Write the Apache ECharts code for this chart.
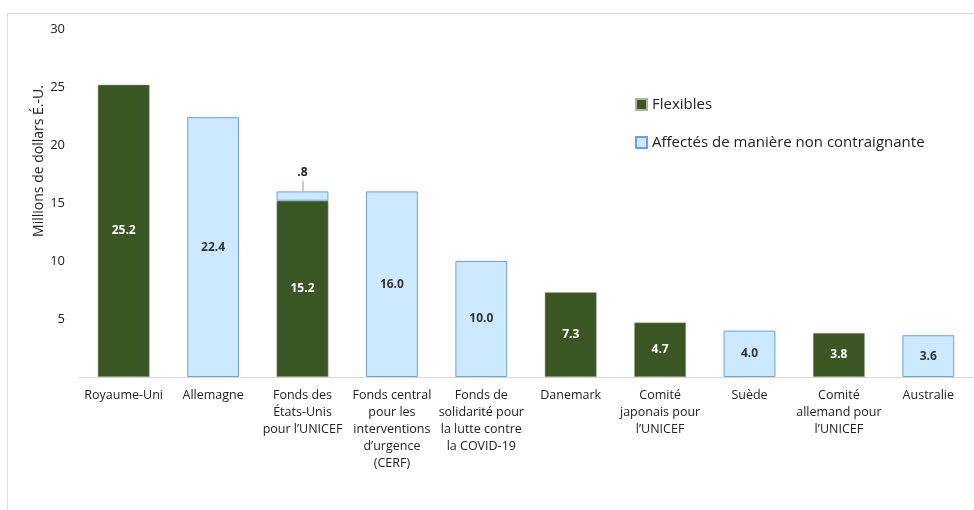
<!DOCTYPE html>
<html><head><meta charset="utf-8">
<script src="https://cdn.jsdelivr.net/npm/echarts@6/dist/echarts.min.js"></script>
<style>html,body{margin:0;padding:0;background:#fff}#c{width:974px;height:510px}</style>
</head><body><div id="c"></div>
<script>
const categories = ["Royaume-Uni","Allemagne","Fonds des\nÉtats-Unis\npour l’UNICEF","Fonds central\npour les\ninterventions\nd’urgence\n(CERF)","Fonds de\nsolidarité pour\nla lutte contre\nla COVID-19","Danemark","Comité\njaponais pour\nl’UNICEF","Suède","Comité\nallemand pour\nl’UNICEF","Australie"];
const flexibles = [25.2, null, 15.2, null, null, 7.3, 4.7, null, 3.8, null];
const affectes = [null, 22.4, 0.8, 16.0, 10.0, null, null, 4.0, null, 3.6];
const yTicks = [0,5,10,15,20,25,30];
const seriesNames = ["Flexibles","Affectés de manière non contraignante"];
const yAxisTitle = "Millions de dollars É.-U.";

const FONT = "'Open Sans', sans-serif";
const chart = echarts.init(document.getElementById('c'));
chart.setOption({
  animation:false,
  textStyle:{fontFamily:FONT},
  graphic:[
    {type:'rect',shape:{x:7.5,y:13.5,width:980,height:520},style:{fill:'none',stroke:'#d9d9d9',lineWidth:1},silent:true},
    {type:'text',x:39,y:161,rotation:Math.PI/2,silent:true,
     style:{text:yAxisTitle,fontSize:14,fill:'#222',fontFamily:FONT,align:'center',verticalAlign:'middle'}}
  ],
  grid:{left:79,right:1,top:29,bottom:133},
  legend:{
    orient:'vertical', left:630, top:92, itemGap:23, itemWidth:11, itemHeight:11,
    textStyle:{fontSize:15,color:'#222',fontFamily:FONT},
    data:[{name:seriesNames[0],icon:'rect'},{name:seriesNames[1],icon:'rect'}]
  },
  xAxis:{type:'category',data:categories,
    axisLine:{lineStyle:{color:'#d9d9d9',width:1}},axisTick:{show:false},
    axisLabel:{interval:0,fontSize:12.5,color:'#222',lineHeight:17,margin:10,fontFamily:FONT}},
  yAxis:{type:'value',min:0,max:30,interval:5,splitLine:{show:false},
    axisLine:{show:false},axisTick:{show:false},
    axisLabel:{fontSize:13,color:'#222',margin:14,fontFamily:FONT,
      formatter:v=>yTicks.indexOf(v)>0?String(v):''}},
  series:[
    {name:seriesNames[0],type:'bar',stack:'s',data:flexibles,barWidth:'58%',
     itemStyle:{color:'#3b5525',borderColor:'#a9b99a',borderWidth:0.5},
     label:{show:true,position:'inside',color:'#fff',fontWeight:'bold',fontSize:12,
       formatter:p=>p.value.toFixed(1)}},
    {name:seriesNames[1],type:'bar',stack:'s',
     data:affectes.map((v,i)=>{
       if(v===null) return null;
       if(v<1) return {value:v,label:{position:'top',distance:13,color:'#222',formatter:'.8'}};
       return v;}),
     barWidth:'58%',
     itemStyle:{color:'#cce9ff',borderColor:'#6f9fe0',borderWidth:1},
     label:{show:true,position:'inside',color:'#333',fontWeight:'bold',fontSize:12,
       formatter:p=>p.value<1?'.8':p.value.toFixed(1)}},
    {type:'line',data:affectes.map((v,i)=>v!==null&&v<1?[i,(flexibles[i]||0)+v]:null).filter(Boolean),
     symbol:'none',silent:true,lineStyle:{width:0},
     markLine:{silent:true,symbol:'none',label:{show:false},lineStyle:{color:'#bbb',type:'solid',width:1.5},
       data:affectes.map((v,i)=>v!==null&&v<1?[{coord:[i,(flexibles[i]||0)+v]},{coord:[i,(flexibles[i]||0)+v+0.95]}]:null).filter(Boolean)}}
  ]
});
</script></body></html>
